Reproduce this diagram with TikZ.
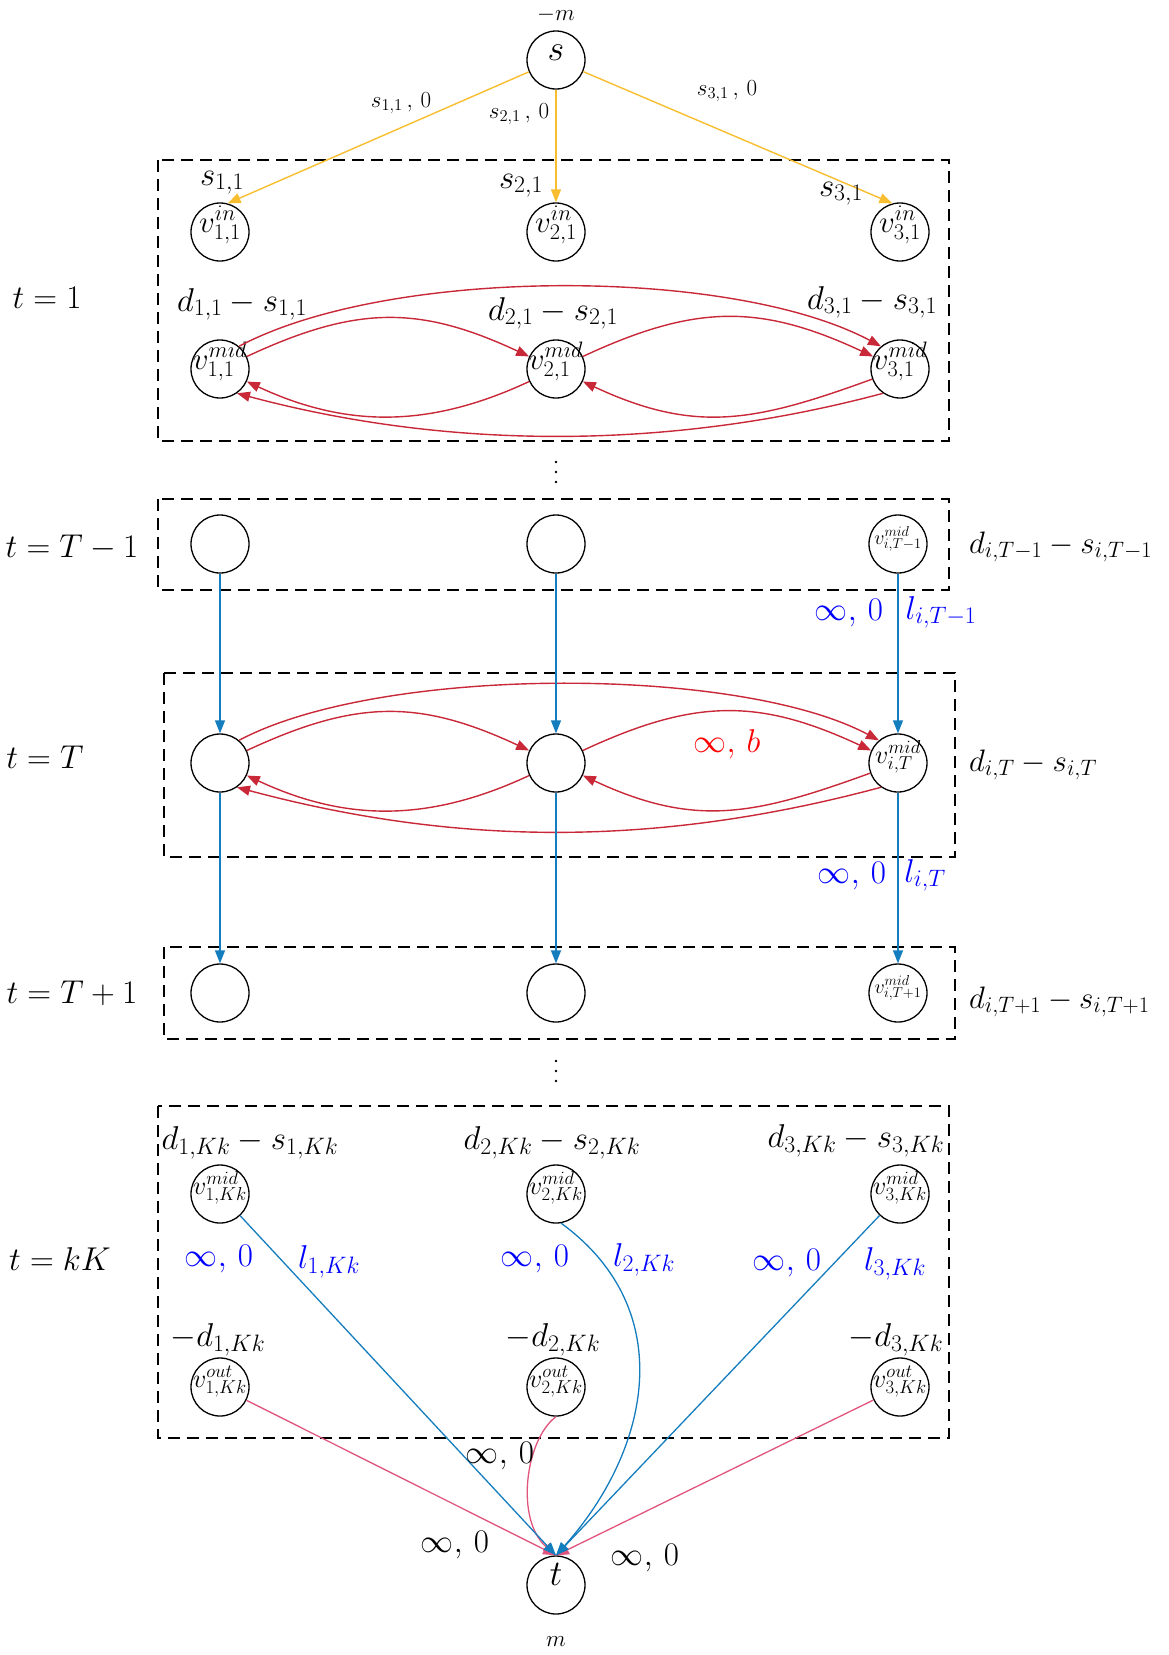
\RequirePackage{fix-cm}
\documentclass[tikz,border=0pt]{standalone}
\usetikzlibrary{arrows.meta}
\definecolor{cyel}{RGB}{248,190,48}
\definecolor{cred}{RGB}{200,40,55}
\definecolor{cblu}{RGB}{20,125,190}
\definecolor{cpink}{RGB}{225,85,125}
\def\defaultscriptratio{.72}
\newcommand\ntx[1]{\smash{\makebox[0pt]{$#1$}}}
\begin{document}
\begin{tikzpicture}[x=1pt,y=1pt,
  vc/.style={circle,draw,line width=1.3pt,minimum size=58pt,inner sep=0pt,font=\fontsize{31}{31}\selectfont},
  vcb/.style={vc,font=\fontsize{36}{36}\selectfont},
  vck/.style={vc,font=\fontsize{26}{26}\selectfont},
  vct/.style={vc,font=\fontsize{26}{26}\selectfont},
  vcs/.style={vc,font=\fontsize{20}{20}\selectfont},
  big/.style={font=\fontsize{33}{33}\selectfont,inner sep=0pt,anchor=base},
  rgt/.style={font=\fontsize{31}{31}\selectfont,inner sep=0pt,anchor=base west},
  sml/.style={font=\fontsize{23}{23}\selectfont,inner sep=0pt,anchor=base},
  bl/.style={big,text=blue},
  boxd/.style={draw,line width=1.4pt,dash pattern=on 12pt off 7pt},
  tip/.style={-{Triangle[length=13pt,width=10pt]}},
  ye/.style={tip,draw=cyel,line width=1.4pt},
  re/.style={tip,draw=cred,line width=1.4pt},
  be/.style={tip,draw=cblu,line width=1.3pt},
  pe/.style={tip,draw=cpink,line width=1.3pt}]
\useasboundingbox (0,0) rectangle (1169,-1655);

% dashed boxes
\draw[boxd] (158,-160) rectangle (949,-441);
\draw[boxd] (158,-499) rectangle (949,-590);
\draw[boxd] (164,-673) rectangle (955,-857);
\draw[boxd] (164,-947) rectangle (955,-1039);
\draw[boxd] (158,-1106) rectangle (949,-1438);

% nodes
\node[vcb] (s) at (556,-60) {\ntx{s}};
\node[vc] (vi1) at (220,-232) {\ntx{v^{in}_{1,1}}};
\node[vc] (vi2) at (556,-232) {\ntx{v^{in}_{2,1}}};
\node[vc] (vi3) at (900,-232) {\ntx{v^{in}_{3,1}}};
\node[vc] (vm1) at (220,-369) {\ntx{v^{mid}_{1,1}}};
\node[vc] (vm2) at (556,-369) {\ntx{v^{mid}_{2,1}}};
\node[vc] (vm3) at (900,-369) {\ntx{v^{mid}_{3,1}}};
\node[vc] (a1) at (220,-544) {};
\node[vc] (a2) at (556,-544) {};
\node[vcs] (a3) at (898,-544) {\ntx{v^{mid}_{i,T-1}}};
\node[vc] (b1) at (220,-763) {};
\node[vc] (b2) at (556,-763) {};
\node[vct] (b3) at (898,-763) {\ntx{v^{mid}_{i,T}}};
\node[vc] (c1) at (220,-993) {};
\node[vc] (c2) at (556,-993) {};
\node[vcs] (c3) at (898,-993) {\ntx{v^{mid}_{i,T+1}}};
\node[vck] (km1) at (220,-1194) {\ntx{v^{mid}_{1,Kk}}};
\node[vck] (km2) at (556,-1194) {\ntx{v^{mid}_{2,Kk}}};
\node[vck] (km3) at (900,-1194) {\ntx{v^{mid}_{3,Kk}}};
\node[vck] (ko1) at (220,-1387) {\ntx{v^{out}_{1,Kk}}};
\node[vck] (ko2) at (556,-1387) {\ntx{v^{out}_{2,Kk}}};
\node[vck] (ko3) at (900,-1387) {\ntx{v^{out}_{3,Kk}}};
\node[vcb] (t) at (556,-1585) {\ntx{t}};

% vertical dots
\foreach \yy in {462,472,482} {\fill (556,-\yy) circle (1.4pt);}
\foreach \yy in {1061,1071,1081} {\fill (556,-\yy) circle (1.4pt);}

% source edges
\draw[ye] (s) -- (vi1.75);
\draw[ye] (s) -- (vi2);
\draw[ye] (s) -- (vi3.105);

% red arcs, t=1
\draw[re] (vm1) to[out=25,in=155,looseness=1.1] (vm2);
\draw[re] (vm2) to[out=25,in=155,looseness=1.1] (vm3);
\draw[re] (vm1.50) .. controls +(28:170) and +(152:170) .. (vm3.130);
\draw[re] (vm2) to[out=205,in=-25,looseness=1.0] (vm1);
\draw[re] (vm3) to[out=200,in=-25,looseness=1.1] (vm2);
\draw[re] (vm3.235) .. controls +(195:220) and +(-15:220) .. (vm1.-55);

% red arcs, t=T
\draw[re] (b1) to[out=25,in=155,looseness=1.1] (b2);
\draw[re] (b2) to[out=25,in=155,looseness=1.1] (b3);
\draw[re] (b1.50) .. controls +(28:160) and +(152:160) .. (b3.130);
\draw[re] (b2) to[out=205,in=-25,looseness=1.0] (b1);
\draw[re] (b3) to[out=200,in=-25,looseness=1.1] (b2);
\draw[re] (b3.235) .. controls +(195:230) and +(-15:230) .. (b1.-55);

% blue vertical edges
\draw[be] (a1) -- (b1);
\draw[be] (a2) -- (b2);
\draw[be] (a3) -- (b3);
\draw[be] (b1) -- (c1);
\draw[be] (b2) -- (c2);
\draw[be] (b3) -- (c3);

% sink edges
\draw[pe] (ko1) -- (t.north);
\draw[pe] (ko3) -- (t.north);
\draw[pe] (ko2.south) .. controls (525,-1440) and (515,-1520) .. (t.north);
\draw[be] (km1) -- (t.north);
\draw[be] (km3) -- (t.north);
\draw[be] (km2.-80) .. controls (680,-1310) and (650,-1450) .. (t.north);

% labels
\node[sml] (lm) at (556,-20) {$-m$};
\node[sml] (lm2) at (556,-1646) {$m$};
\node[sml] (es1) at (401,-107) {$s_{1,1}\,,\,0$};
\node[sml] (es2) at (519,-118) {$s_{2,1}\,,\,0$};
\node[sml] (es3) at (727,-95) {$s_{3,1}\,,\,0$};
\node[big] (ls1) at (222,-185) {$s_{1,1}$};
\node[big] (ls2) at (521,-188) {$s_{2,1}$};
\node[big] (ls3) at (841,-196) {$s_{3,1}$};
\node[big] (r1) at (47,-308) {$t=1$};
\node[big] (d11) at (242,-311) {$d_{1,1}-s_{1,1}$};
\node[big] (d21) at (553,-320) {$d_{2,1}-s_{2,1}$};
\node[big] (d31) at (872,-309) {$d_{3,1}-s_{3,1}$};
\node[big] (r2) at (72,-557) {$t=T-1$};
\node[rgt] (dT1) at (969,-553) {$d_{i,T-1}-s_{i,T-1}$};
\node[bl] (inf1) at (849,-620) {$\infty,\,0$};
\node[bl] (lT1) at (941,-619) {$l_{i,T-1}$};
\node[big] (r3) at (45,-768) {$t=T$};
\node[big,text=red] (infb) at (727,-752) {$\infty,\,b$};
\node[rgt] (dT) at (969,-771) {$d_{i,T}-s_{i,T}$};
\node[bl] (inf2) at (852,-883) {$\infty,\,0$};
\node[bl] (lT) at (925,-882) {$l_{i,T}$};
\node[big] (r4) at (72,-1003) {$t=T+1$};
\node[rgt] (dT2) at (969,-1008) {$d_{i,T+1}-s_{i,T+1}$};
\node[big] (dk1) at (250,-1149) {$d_{1,Kk}-s_{1,Kk}$};
\node[big] (dk2) at (552,-1149) {$d_{2,Kk}-s_{2,Kk}$};
\node[big] (dk3) at (856,-1147) {$d_{3,Kk}-s_{3,Kk}$};
\node[big] (r5) at (60,-1270) {$t=kK$};
\node[bl] (ik1) at (219,-1266) {$\infty,\,0$};
\node[bl] (lk1) at (329,-1268) {$l_{1,Kk}$};
\node[bl] (ik2) at (535,-1266) {$\infty,\,0$};
\node[bl] (lk2) at (644,-1266) {$l_{2,Kk}$};
\node[bl] (ik3) at (787,-1270) {$\infty,\,0$};
\node[bl] (lk3) at (895,-1270) {$l_{3,Kk}$};
\node[big] (od1) at (218,-1346) {$-d_{1,Kk}$};
\node[big] (od2) at (553,-1346) {$-d_{2,Kk}$};
\node[big] (od3) at (896,-1346) {$-d_{3,Kk}$};
\node[big] (ib1) at (500,-1463) {$\infty,\,0$};
\node[big] (ib2) at (455,-1552) {$\infty,\,0$};
\node[big] (ib3) at (645,-1565) {$\infty,\,0$};
\end{tikzpicture}
\end{document}
